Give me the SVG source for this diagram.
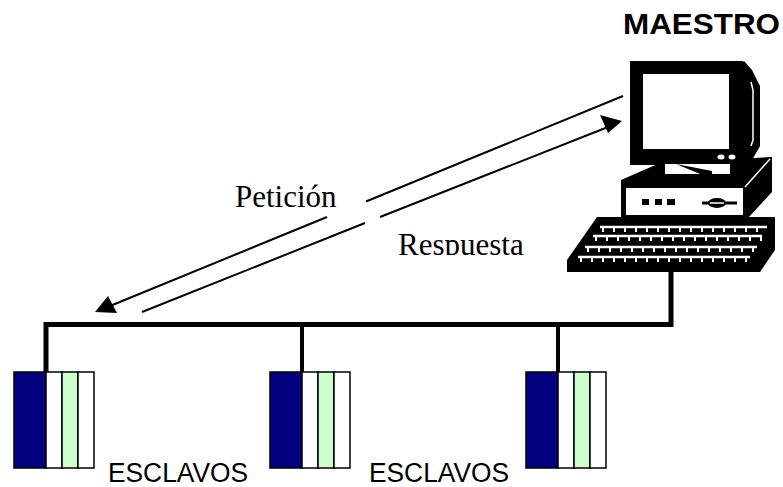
<svg xmlns="http://www.w3.org/2000/svg" width="783" height="487" viewBox="0 0 783 487">
  <style>
    .bus { stroke: #000; stroke-width: 5; fill: none; stroke-linecap: square; }
    .drop { stroke: #000; stroke-width: 4; fill: none; }
    .msg { stroke: #000; stroke-width: 2; fill: none; }
    .cell { stroke: #000; stroke-width: 1.5; }
    .label { font-family: "Liberation Sans", Arial, sans-serif; font-size: 27px; fill: #000; }
    .title { font-family: "Liberation Sans", Arial, sans-serif; font-size: 29px; font-weight: bold; fill: #000; }
    .serif { font-family: "Liberation Serif", "Times New Roman", serif; font-size: 31px; fill: #000; }
    .key { stroke: #fff; stroke-width: 2.5; fill: none; }
    .tick { stroke: #fff; stroke-width: 4; fill: none; stroke-dasharray: 2 9; }
  </style>
  <defs>
    <clipPath id="clipPeticion"><rect x="220" y="170" width="150" height="37.5"/></clipPath>
    <clipPath id="clipRespuesta"><rect x="380" y="220" width="170" height="35"/></clipPath>
    <g id="slaveShape">
      <rect class="cell" x="0" y="0" width="32" height="96" fill="#000080"/>
      <rect class="cell" x="32" y="0" width="16" height="96" fill="#fff"/>
      <rect class="cell" x="48" y="0" width="16" height="96" fill="#ccffcc"/>
      <rect class="cell" x="64" y="0" width="16" height="96" fill="#fff"/>
    </g>
  </defs>

  <rect width="783" height="487" fill="#fff"/>

  <!-- network cabling and message arrows -->
  <g id="connectors">
    <polyline class="bus" points="46,372 46,324.5 671,324.5 671,272"/>
    <line class="drop" x1="302" y1="324" x2="302" y2="372"/>
    <line class="drop" x1="558" y1="324" x2="558" y2="372"/>
    <!-- request: master to slaves -->
    <line class="msg" x1="623" y1="96" x2="366" y2="201.5"/>
    <polyline class="msg" points="327,217 110,306"/>
    <polygon points="95,312 108,296 117,313" fill="#000"/>
    <!-- response: slaves to master -->
    <line class="msg" x1="142" y1="312" x2="365" y2="223"/>
    <line class="msg" x1="380" y1="217" x2="608" y2="127"/>
    <polygon points="622,121 600,115 608,133" fill="#000"/>
  </g>

  <g id="label-peticion" clip-path="url(#clipPeticion)">
    <text class="serif" x="235" y="207">Petición</text>
  </g>
  <g id="label-respuesta" clip-path="url(#clipRespuesta)">
    <text class="serif" x="398" y="255">Respuesta</text>
  </g>

  <!-- master workstation -->
  <g id="maestro">
    <text class="title" x="623" y="34" textLength="157" lengthAdjust="spacingAndGlyphs">MAESTRO</text>
    <!-- monitor side -->
    <polygon points="744,61 752,70 760,86 760,146 752,160 744,162" fill="#000"/>
    <polyline points="751,82 753,90 753,140 751,146" stroke="#fff" stroke-width="1.5" fill="none"/>
    <!-- system unit -->
    <polygon points="621,180 660,163 772,157 772,192 748,218 621,218" fill="#000"/>
    <rect x="626" y="188" width="117" height="27" fill="#fff"/>
    <line x1="745" y1="187" x2="770" y2="159" stroke="#fff" stroke-width="1.5"/>
    <rect x="642" y="199" width="7" height="6" fill="#000"/>
    <rect x="655" y="199" width="7" height="6" fill="#000"/>
    <rect x="667" y="199" width="8" height="6" fill="#000"/>
    <line x1="702" y1="203" x2="737" y2="203" stroke="#000" stroke-width="3"/>
    <ellipse cx="717" cy="203" rx="9" ry="5" fill="#000"/>
    <line x1="710" y1="203" x2="724" y2="203" stroke="#fff" stroke-width="1.5"/>
    <!-- monitor front -->
    <polygon points="630,61 743,61 747,65 747,165 630,165" fill="#000"/>
    <rect x="643" y="74" width="86" height="75" fill="#fff"/>
    <ellipse cx="721" cy="157" rx="3.5" ry="2.5" fill="#fff"/>
    <ellipse cx="732" cy="157" rx="3.5" ry="2.5" fill="#fff"/>
    <!-- stand -->
    <rect x="665" y="164" width="65" height="10" fill="#fff"/>
    <polygon points="676,164 712,171 712,174 700,174" fill="#000"/>
    <!-- keyboard -->
    <polygon points="597,217 775,217 775,250 760,272 567,272 567,260" fill="#000"/>
    <line class="key" x1="600" y1="227" x2="767" y2="227"/>
    <line class="tick" x1="602" y1="230" x2="767" y2="230"/>
    <line class="key" x1="593" y1="236" x2="762" y2="236"/>
    <line class="tick" x1="595" y1="239" x2="762" y2="239"/>
    <line class="key" x1="585" y1="247" x2="757" y2="247"/>
    <line class="tick" x1="587" y1="250" x2="757" y2="250"/>
    <line class="key" x1="578" y1="257" x2="750" y2="257"/>
    <line class="tick" x1="580" y1="260" x2="750" y2="260"/>
  </g>

  <g id="esclavo-1">
    <use href="#slaveShape" x="14" y="372"/>
    <text class="label" x="108" y="482" textLength="140" lengthAdjust="spacingAndGlyphs">ESCLAVOS</text>
  </g>
  <g id="esclavo-2">
    <use href="#slaveShape" x="270" y="372"/>
    <text class="label" x="369" y="482" textLength="140" lengthAdjust="spacingAndGlyphs">ESCLAVOS</text>
  </g>
  <g id="esclavo-3">
    <use href="#slaveShape" x="526" y="372"/>
  </g>
</svg>
